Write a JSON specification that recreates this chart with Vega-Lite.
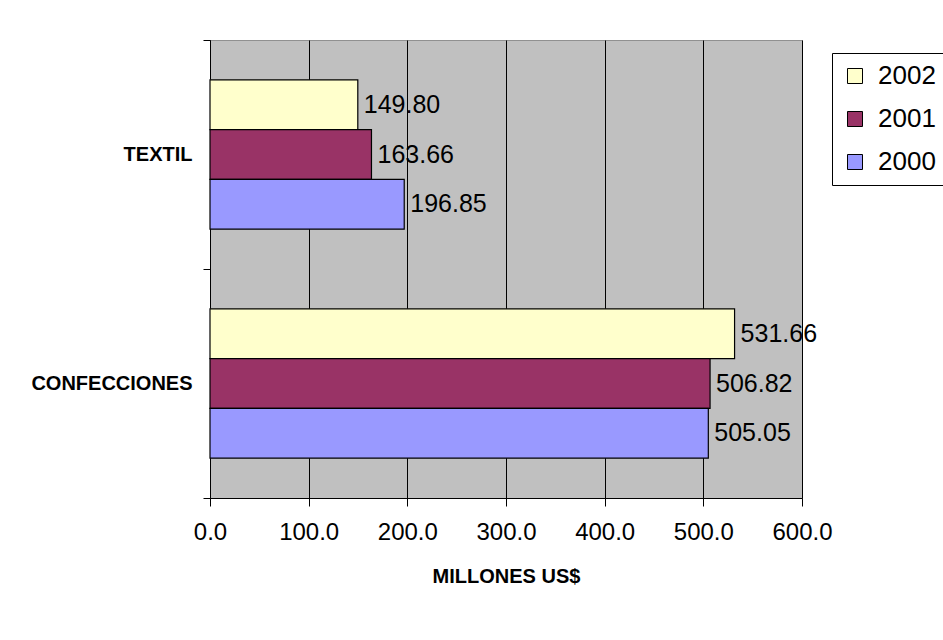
{
  "$schema": "https://vega.github.io/schema/vega-lite/v6.json",
  "autosize": {"type": "none"},
  "padding": {"left": 210, "top": 40, "right": 141, "bottom": 142},
  "width": 592,
  "height": 458,
  "background": "white",
  "data": {
    "values": [
      {"categoria": "TEXTIL", "anio": "2002", "valor": 149.80},
      {"categoria": "TEXTIL", "anio": "2001", "valor": 163.66},
      {"categoria": "TEXTIL", "anio": "2000", "valor": 196.85},
      {"categoria": "CONFECCIONES", "anio": "2002", "valor": 531.66},
      {"categoria": "CONFECCIONES", "anio": "2001", "valor": 506.82},
      {"categoria": "CONFECCIONES", "anio": "2000", "valor": 505.05}
    ]
  },
  "encoding": {
    "y": {
      "field": "categoria",
      "type": "nominal",
      "sort": ["TEXTIL", "CONFECCIONES"],
      "scale": {"paddingInner": 0, "paddingOuter": 0},
      "axis": {
        "title": null,
        "domainColor": "black",
        "tickColor": "black",
        "tickSize": 7,
        "tickBand": "extent",
        "labelPadding": 11,
        "labelFont": "Liberation Sans",
        "labelFontSize": 20,
        "labelFontWeight": "bold",
        "labelColor": "black",
        "grid": false
      }
    },
    "yOffset": {
      "field": "anio",
      "type": "nominal",
      "sort": ["2002", "2001", "2000"],
      "scale": {"paddingInner": 0, "paddingOuter": 0.8}
    }
  },
  "layer": [
    {
      "mark": {"type": "bar", "stroke": "black", "strokeWidth": 1.2},
      "encoding": {
        "x": {
          "field": "valor",
          "type": "quantitative",
          "scale": {"domain": [0, 600], "nice": false},
          "axis": {
            "title": "MILLONES US$",
            "titleFont": "Liberation Sans",
            "titleFontSize": 20,
            "titleFontWeight": "bold",
            "titleColor": "black",
            "titlePadding": 22,
            "values": [0, 100, 200, 300, 400, 500, 600],
            "format": ".1f",
            "labelFont": "Liberation Sans",
            "labelFontSize": 24,
            "labelColor": "black",
            "labelPadding": 14,
            "labelFlush": false,
            "domainColor": "black",
            "tickColor": "black",
            "tickSize": 8,
            "grid": true,
            "gridColor": "black",
            "gridOpacity": 1,
            "gridWidth": 1
          }
        },
        "color": {
          "field": "anio",
          "type": "nominal",
          "scale": {"domain": ["2002", "2001", "2000"], "range": ["#FFFFCC", "#993366", "#9999FF"]},
          "legend": {
            "title": null,
            "orient": "none",
            "legendX": 622,
            "legendY": 13,
            "symbolType": "square",
            "symbolSize": 225,
            "symbolStrokeColor": "black",
            "symbolStrokeWidth": 1,
            "symbolOpacity": 1,
            "labelFont": "Liberation Sans",
            "labelFontSize": 26,
            "labelColor": "black",
            "labelOffset": 10,
            "rowPadding": 17,
            "padding": 10,
            "strokeColor": "black",
            "fillColor": "white"
          }
        }
      }
    },
    {
      "mark": {"type": "text", "align": "left", "baseline": "middle", "dx": 6, "font": "Liberation Sans", "fontSize": 25, "color": "black"},
      "encoding": {
        "x": {"field": "valor", "type": "quantitative"},
        "text": {"field": "valor", "type": "quantitative", "format": ".2f"}
      }
    }
  ],
  "config": {
    "view": {"fill": "#C0C0C0", "stroke": "#909090", "strokeWidth": 1}
  }
}
